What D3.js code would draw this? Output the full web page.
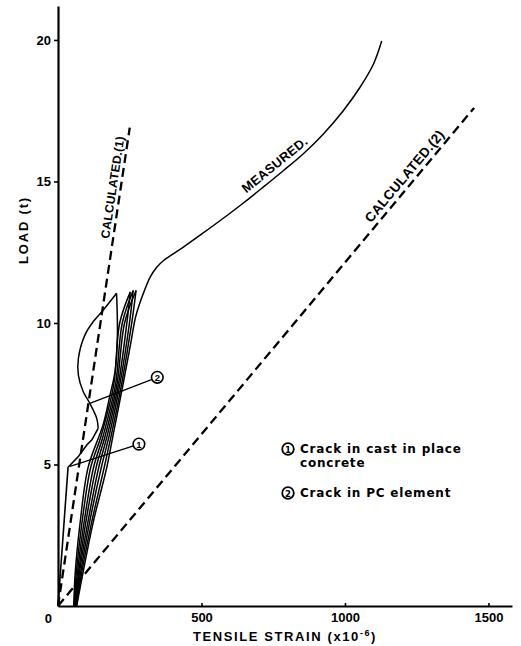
<!DOCTYPE html>
<html>
<head>
<meta charset="utf-8">
<script src="https://cdn.jsdelivr.net/npm/d3@7"></script>
<style>
  html, body { margin: 0; padding: 0; background: #fff; }
  svg { display: block; }
</style>
</head>
<body>
<script>
// ---------- DATA (strain x10^-6, load t) ----------
const strainTicks = [500, 1000, 1500];
const loadTicks = [5, 10, 15, 20];

const calculated1 = [[0, 0], [250, 16.9]];
const calculated2 = [[0, 0], [1450, 17.6]];

const initialLoading = [[0, 0], [35, 4.9], [70, 5.27], [101, 5.7], [118, 5.87], [140, 6.28]];
const initialBulge = [[140, 6.28], [135, 6.63], [111, 7.16], [88, 7.57], [71, 8.16], [71, 8.75], [94, 9.58], [123, 10.05], [158, 10.46], [204, 11.05]];
const unloadA = [[204, 11.05], [207, 9.6], [199, 8.3], [181, 7.44], [157, 6.4], [105, 4.9], [77, 2.93], [60, 1.17], [55, 0]];
const loadA = [[61, 0], [75, 1.2], [103, 2.9], [142, 4.9], [171, 6.0], [210, 7.8], [240, 10], [252, 11.1]];
const unloadB = [[252, 11.1], [215, 10], [194, 7.8], [150, 6.0], [114, 4.9], [83, 2.9], [64, 1.2], [56, 0]];
const loadB = [[62, 0], [79, 1.2], [109, 2.9], [151, 4.9], [178, 6.0], [215, 7.8], [249, 10], [262, 11.15]];
const unloadC = [[262, 11.15], [224, 10], [200, 7.8], [157, 6.0], [124, 4.9], [90, 2.9], [68, 1.2], [58, 0]];
const loadC = [[64, 0], [83, 1.2], [116, 2.9], [161, 4.9], [185, 6.0], [221, 7.8], [257, 10], [272, 11.15]];
const unloadD = [[272, 11.15], [232, 10], [205, 7.8], [164, 6.0], [133, 4.9], [96, 2.9], [72, 1.2], [59, 0]];
const measured = [[65, 0], [87, 1.17], [122, 2.93], [170, 4.9], [192, 6.04], [226, 7.8], [252, 9.2], [270, 10.2], [285, 10.7], [297, 11.03], [321, 11.62], [344, 11.97], [367, 12.2], [437, 12.68], [506, 13.18], [576, 13.7], [646, 14.24], [715, 14.8], [785, 15.38], [855, 15.98], [924, 16.67], [994, 17.5], [1052, 18.32], [1099, 19.14], [1128, 19.96]];

const crack1 = { from: [42, 4.93], at: [282, 5.72], label: "1" };
const crack2 = { from: [111, 7.16], at: [346, 8.08], label: "2" };

const legendItems = [
  { mark: "1", lines: ["Crack in cast in place", "concrete"] },
  { mark: "2", lines: ["Crack in PC element"] }
];

// ---------- CHART ----------
const W = 521, H = 646;
const svg = d3.select("body").append("svg").attr("width", W).attr("height", H);

const x = d3.scaleLinear().domain([0, 1582]).range([58, 512]);
const y = d3.scaleLinear().domain([0, 21.2]).range([606, 6]);

const tickFont = "'Liberation Sans', Arial, sans-serif";

// Y axis
const gy = svg.append("g").attr("transform", `translate(${x(0)},0)`)
  .call(d3.axisLeft(y).tickValues(loadTicks).tickFormat(d3.format("d")).tickSize(4).tickSizeOuter(0).tickPadding(3));
gy.select(".domain").attr("stroke-width", 2.2);
gy.selectAll(".tick line").attr("stroke-width", 1.6);
gy.selectAll("text").attr("font-family", tickFont).attr("font-size", 13).attr("font-weight", "bold").attr("fill", "#000");

// X axis
const gx = svg.append("g").attr("transform", `translate(0,${y(0)})`)
  .call(d3.axisBottom(x).tickValues(strainTicks).tickFormat(d3.format("d")).tickSizeInner(-3).tickSizeOuter(0).tickPadding(7));
gx.select(".domain").attr("stroke-width", 2.2);
gx.selectAll(".tick line").attr("stroke-width", 1.6);
gx.selectAll("text").attr("font-family", tickFont).attr("font-size", 13).attr("font-weight", "bold").attr("fill", "#000");

svg.append("text").attr("x", x(0) - 6).attr("y", y(0) + 17)
  .attr("text-anchor", "end").attr("font-family", tickFont).attr("font-size", 13).attr("font-weight", "bold").text("0");

// Axis titles
const xt = svg.append("text").attr("x", 285).attr("y", 641).attr("text-anchor", "middle")
  .attr("font-family", tickFont).attr("font-size", 13).attr("font-weight", "bold").attr("letter-spacing", 1.6);
xt.append("tspan").text("TENSILE STRAIN (x10");
xt.append("tspan").attr("dy", -5).attr("font-size", 9).text("-6");
xt.append("tspan").attr("dy", 5).text(")");

svg.append("text").attr("transform", "translate(28,230) rotate(-90)").attr("text-anchor", "middle")
  .attr("font-family", tickFont).attr("font-size", 13).attr("font-weight", "bold").attr("letter-spacing", 1.8)
  .text("LOAD (t)");

// Lines
const smooth = d3.line().x(d => x(d[0])).y(d => y(d[1])).curve(d3.curveCatmullRom.alpha(0.5));
const straight = d3.line().x(d => x(d[0])).y(d => y(d[1]));

[calculated1, calculated2].forEach(d => {
  svg.append("path").attr("d", straight(d)).attr("fill", "none").attr("stroke", "#000")
    .attr("stroke-width", 2.3).attr("stroke-dasharray", "9,5");
});

svg.append("path").attr("d", straight(initialLoading)).attr("fill", "none").attr("stroke", "#000").attr("stroke-width", 1.6);
[initialBulge, unloadA, loadA, unloadB, loadB, unloadC, loadC, unloadD, measured].forEach(d => {
  svg.append("path").attr("d", smooth(d)).attr("fill", "none").attr("stroke", "#000").attr("stroke-width", 1.5);
});

// Crack leaders
[crack1, crack2].forEach(c => {
  svg.append("line").attr("x1", x(c.from[0])).attr("y1", y(c.from[1]))
    .attr("x2", x(c.at[0])).attr("y2", y(c.at[1])).attr("stroke", "#000").attr("stroke-width", 1.3);
  svg.append("circle").attr("cx", x(c.at[0])).attr("cy", y(c.at[1])).attr("r", 5.8)
    .attr("fill", "#fff").attr("stroke", "#000").attr("stroke-width", 1.6);
  svg.append("text").attr("x", x(c.at[0])).attr("y", y(c.at[1]) + 3.5).attr("text-anchor", "middle")
    .attr("font-family", tickFont).attr("font-size", 9.5).attr("font-weight", "bold").text(c.label);
});

// Line labels along the lines
function angleOf(p0, p1) {
  return Math.atan2(y(p1[1]) - y(p0[1]), x(p1[0]) - x(p0[0])) * 180 / Math.PI;
}
function lineLabel(text, px, py, ang, off, size, spacing) {
  svg.append("text").attr("transform", `translate(${px},${py}) rotate(${ang})`)
    .attr("x", 0).attr("y", -off)
    .attr("font-family", tickFont).attr("font-size", size).attr("font-weight", "bold")
    .attr("letter-spacing", spacing).text(text);
}
{
  const a1 = angleOf(calculated1[0], calculated1[1]);
  const l1 = 12.95, s1 = calculated1[1][0] * l1 / calculated1[1][1];
  lineLabel("CALCULATED.(1)", x(s1), y(l1), a1, 4, 12, 0.3);

  const a2 = angleOf(calculated2[0], calculated2[1]);
  const l2 = 13.4, s2 = calculated2[1][0] * l2 / calculated2[1][1];
  lineLabel("CALCULATED.(2)", x(s2), y(l2), a2, 5, 13.5, 0.3);

  lineLabel("MEASURED.", x(668), y(14.42), angleOf([600, 13.88], [860, 16.02]), 5.5, 13, 0.3);
}

// Legend
const lg = svg.append("g").attr("font-family", "'DejaVu Sans', sans-serif").attr("font-weight", "bold");
const legendTop = [453, 497];
legendItems.forEach((it, i) => {
  const by = legendTop[i];
  lg.append("circle").attr("cx", 288).attr("cy", by - 4).attr("r", 5.8)
    .attr("fill", "#fff").attr("stroke", "#000").attr("stroke-width", 1.8);
  lg.append("text").attr("x", 288).attr("y", by - 0.5).attr("text-anchor", "middle")
    .attr("font-size", 8.5).text(it.mark);
  it.lines.forEach((t, j) => {
    lg.append("text").attr("x", 300).attr("y", by + j * 14).attr("font-size", 12)
      .attr("letter-spacing", 0.8).text(t);
  });
});
</script>
</body>
</html>
